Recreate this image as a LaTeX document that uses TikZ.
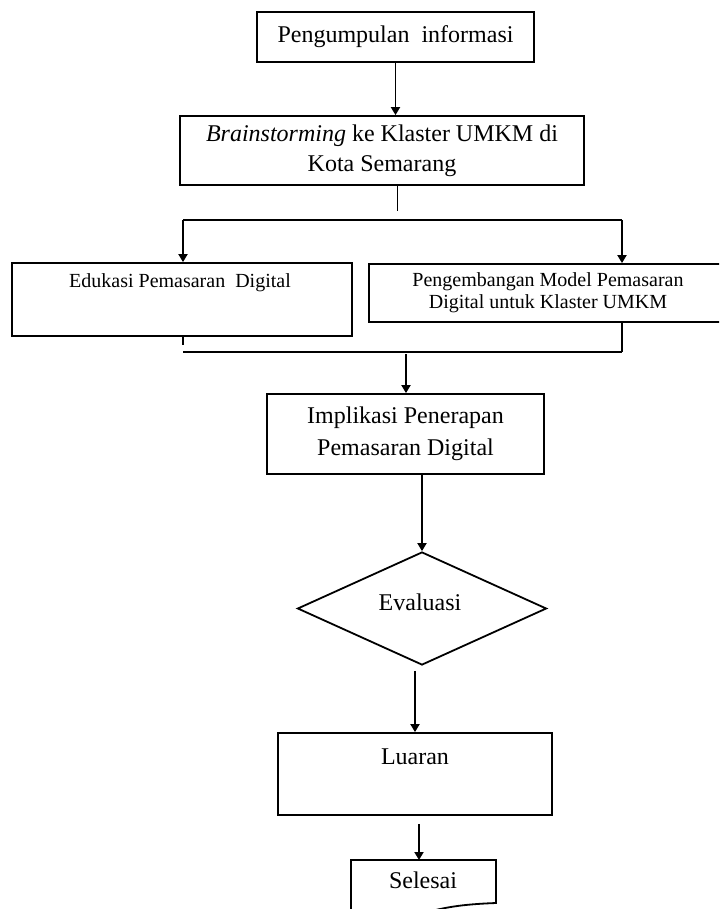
\documentclass[tikz,border=0pt]{standalone}
\usepackage{fontspec}
\setmainfont{Liberation Serif}
\usetikzlibrary{arrows.meta,shapes.geometric}
\tikzset{
  boxn/.style={draw,rectangle,line width=0.9pt,inner sep=0pt,align=center,font=\fontsize{12}{15}\selectfont},
  smallbox/.style={boxn,font=\fontsize{10}{11}\selectfont},
  decn/.style={draw,diamond,line width=0.9pt,inner sep=0pt},
  txt/.style={font=\fontsize{12}{15}\selectfont,inner sep=0pt},
  smalltxt/.style={font=\fontsize{10}{11}\selectfont,inner sep=0pt},
  ln/.style={line width=0.9pt},
  arr/.style={ln,-{Triangle[width=4.5pt,length=4pt]}},
}

\begin{document}
\begin{tikzpicture}[x=0.5pt,y=-0.5pt]
  \useasboundingbox (0,0) rectangle (719,909);
  \clip (0,0) rectangle (719,909);
  \fill[white] (0,0) rectangle (719,909);
  % boxes
  \node[boxn,minimum width=138.5pt,minimum height=25pt] (info) at (395.5,37) {Pengumpulan\ \ informasi};
  \node[boxn,minimum width=202pt,minimum height=34.5pt] (brain) at (382,150.5) {\textit{Brainstorming} ke Klaster UMKM di\\Kota Semarang};
  \node[smallbox,minimum width=170pt,minimum height=36.5pt] (edukasi) at (182,299.5) {};
  \node[smalltxt] (edukasitxt) at (180,283) {Edukasi Pemasaran\ \ Digital};
  \node[smallbox,minimum width=179pt,minimum height=29pt] (model) at (548,293) {Pengembangan Model Pemasaran\\Digital untuk Klaster UMKM};
  \node[boxn,minimum width=138.5pt,minimum height=40pt,font=\fontsize{12}{16}\selectfont] (implikasi) at (405.5,434) {Implikasi Penerapan\\Pemasaran Digital};
  \node[decn,minimum width=124.5pt,minimum height=56.5pt] (evaluasi) at (422,608.5) {};
  \node[txt] (evaluasitxt) at (420,602) {Evaluasi};
  \node[boxn,minimum width=137pt,minimum height=41pt] (luaran) at (415,774) {};
  \node[txt] (luarantxt) at (415,757) {Luaran};
  % end shape, cut by the page
  \coordinate (selesai) at (419,860);
  \draw[ln] (351,920) -- (351,860) -- (496,860) -- (496,903)
    .. controls (470,904) and (445,906) .. (418,915);
  \node[txt] (selesaitxt) at (423,880) {Selesai};
  % split and join points
  \coordinate (splitL) at (183,220);
  \coordinate (splitR) at (622,220);
  \coordinate (joinL) at (183,352);
  \coordinate (joinR) at (622,352);
  \coordinate (joinM) at (406,352);
  % connectors
  \draw[arr] (info.south) -- (info.south |- brain.north);
  \draw[ln] ([xshift=1pt]brain.south -| info.south) -- ++(0,25);
  \draw[ln] (splitL) -- (splitR);
  \draw[arr] (splitL) -- (splitL |- edukasi.north);
  \draw[arr] (splitR) -- (splitR |- model.north);
  \draw[ln] (edukasi.south -| joinL) -- ++(0,8);
  \draw[ln] (joinL) -- (joinR);
  \draw[ln] (model.south -| joinR) -- (joinR);
  \draw[arr,shorten <=1pt] (joinM) -- (joinM |- implikasi.north);
  \draw[arr] (implikasi.south -| evaluasi.north) -- (evaluasi.north);
  \draw[arr,shorten <=2.5pt] (evaluasi.south -| luaran.north) -- (luaran.north);
  \draw[arr,shorten <=4pt] (luaran.south -| selesai) -- (selesai);
\end{tikzpicture}
\end{document}
